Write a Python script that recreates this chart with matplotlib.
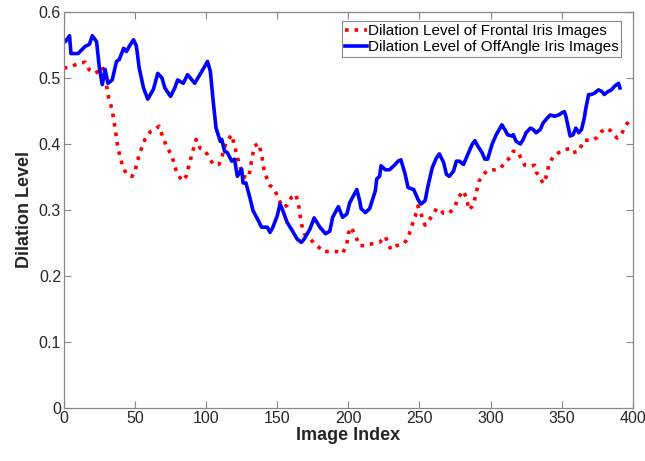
import numpy as np
import matplotlib.pyplot as plt

plt.rcParams['font.family'] = ['Liberation Sans', 'DejaVu Sans']

# dilation level of off-angle iris images
off_idx = [0, 1, 4, 5, 10, 15, 18, 20, 23, 25, 27, 29, 31, 34, 37, 39, 42, 44, 46, 49,
           51, 53, 56, 59, 63, 66, 69, 71, 75, 78, 80, 84, 87, 92, 97, 101, 103, 105, 107, 110,
           111, 113, 115, 118, 120, 122, 125, 126, 128, 131, 133, 136, 139, 143, 145, 147, 150, 152, 154, 157,
           160, 164, 167, 169, 173, 176, 180, 184, 187, 189, 193, 196, 199, 201, 203, 206, 208, 209, 212, 215,
           219, 220, 222, 223, 226, 229, 233, 235, 237, 240, 242, 246, 249, 251, 254, 256, 259, 262, 264, 267,
           269, 271, 274, 276, 278, 281, 284, 287, 289, 291, 294, 296, 298, 301, 304, 308, 310, 312, 315, 316,
           318, 321, 323, 325, 328, 330, 332, 335, 337, 339, 342, 345, 348, 350, 352, 353, 356, 358, 360, 362,
           364, 366, 367, 369, 371, 373, 376, 378, 380, 383, 385, 387, 390, 391]
off_val = [0.555, 0.555, 0.564, 0.537, 0.537, 0.548, 0.551, 0.564, 0.555, 0.515, 0.490, 0.513, 0.492, 0.497, 0.525, 0.528, 0.545, 0.540, 0.548, 0.558,
           0.548, 0.515, 0.485, 0.468, 0.483, 0.507, 0.500, 0.485, 0.472, 0.485, 0.497, 0.492, 0.505, 0.492, 0.510, 0.525, 0.510, 0.465, 0.424, 0.404,
           0.407, 0.389, 0.387, 0.374, 0.377, 0.351, 0.362, 0.341, 0.341, 0.317, 0.299, 0.287, 0.274, 0.274, 0.266, 0.274, 0.291, 0.309, 0.299, 0.281,
           0.271, 0.256, 0.251, 0.256, 0.271, 0.288, 0.274, 0.264, 0.268, 0.289, 0.305, 0.289, 0.294, 0.311, 0.319, 0.331, 0.314, 0.302, 0.296, 0.302,
           0.329, 0.347, 0.351, 0.367, 0.361, 0.361, 0.369, 0.374, 0.376, 0.354, 0.334, 0.331, 0.316, 0.309, 0.314, 0.336, 0.364, 0.379, 0.385, 0.372,
           0.354, 0.351, 0.359, 0.374, 0.374, 0.369, 0.384, 0.399, 0.405, 0.397, 0.387, 0.377, 0.377, 0.399, 0.414, 0.429, 0.422, 0.414, 0.412, 0.414,
           0.404, 0.400, 0.407, 0.417, 0.424, 0.422, 0.417, 0.422, 0.432, 0.437, 0.444, 0.442, 0.444, 0.447, 0.449, 0.442, 0.412, 0.414, 0.424, 0.417,
           0.422, 0.440, 0.454, 0.475, 0.475, 0.477, 0.482, 0.480, 0.475, 0.480, 0.482, 0.487, 0.492, 0.485]

# dilation level of frontal iris images
front_idx = [0, 5, 10, 15, 18, 22, 24, 27, 29, 31, 34, 36, 38, 41, 44, 48, 50, 53, 57, 61,
             64, 67, 69, 72, 76, 79, 83, 86, 90, 93, 96, 98, 101, 105, 109, 111, 114, 118, 120, 123,
             126, 130, 132, 134, 137, 139, 141, 145, 148, 151, 154, 157, 160, 163, 165, 167, 169, 173, 176, 180,
             182, 187, 192, 196, 199, 200, 202, 205, 208, 213, 217, 222, 226, 228, 230, 234, 239, 242, 244, 247,
             249, 251, 254, 257, 260, 262, 264, 267, 271, 275, 277, 281, 283, 285, 288, 290, 292, 295, 298, 303,
             307, 310, 314, 316, 319, 322, 324, 328, 331, 332, 335, 337, 339, 341, 344, 348, 351, 356, 358, 362,
             364, 366, 371, 375, 378, 382, 385, 389, 392, 394, 397, 398]
front_val = [0.515, 0.517, 0.522, 0.524, 0.512, 0.507, 0.510, 0.517, 0.502, 0.475, 0.451, 0.424, 0.394, 0.369, 0.354, 0.351, 0.359, 0.384, 0.407, 0.419,
             0.422, 0.427, 0.414, 0.397, 0.382, 0.359, 0.344, 0.351, 0.384, 0.407, 0.393, 0.392, 0.384, 0.369, 0.369, 0.379, 0.402, 0.414, 0.397, 0.372,
             0.351, 0.349, 0.375, 0.397, 0.401, 0.384, 0.357, 0.337, 0.332, 0.316, 0.304, 0.307, 0.319, 0.324, 0.309, 0.279, 0.264, 0.257, 0.249, 0.242,
             0.237, 0.237, 0.237, 0.234, 0.249, 0.264, 0.274, 0.261, 0.246, 0.246, 0.249, 0.251, 0.260, 0.249, 0.240, 0.246, 0.249, 0.257, 0.272, 0.290,
             0.306, 0.295, 0.277, 0.285, 0.295, 0.302, 0.302, 0.295, 0.295, 0.305, 0.318, 0.329, 0.318, 0.300, 0.308, 0.327, 0.344, 0.354, 0.360, 0.361,
             0.363, 0.372, 0.380, 0.389, 0.389, 0.376, 0.368, 0.366, 0.368, 0.358, 0.348, 0.340, 0.350, 0.368, 0.381, 0.387, 0.391, 0.393, 0.387, 0.389,
             0.398, 0.406, 0.405, 0.410, 0.419, 0.424, 0.419, 0.409, 0.414, 0.424, 0.434, 0.436]

fig = plt.figure(figsize=(6.45, 4.61), dpi=100)
ax = fig.add_axes([0.099, 0.115, 0.882, 0.859])

ax.plot(front_idx, front_val, color='#ff0000', linestyle=':', linewidth=2.6,
        label='Dilation Level of Frontal Iris Images')
ax.plot(off_idx, off_val, color='#0000ff', linestyle='-', linewidth=2.6,
        label='Dilation Level of OffAngle Iris Images')

ax.set_xlim(0, 400)
ax.set_ylim(0, 0.6)
ax.set_xticks(np.arange(0, 401, 50))
ax.set_yticks(np.arange(0, 0.61, 0.1))
ax.set_yticklabels(['0', '0.1', '0.2', '0.3', '0.4', '0.5', '0.6'])
ax.tick_params(direction='in', top=True, right=True, length=5, width=0.8,
               color='#888888', labelsize=11.5, labelcolor='#262626', pad=2)
for s in ax.spines.values():
    s.set_color('#888888')
    s.set_linewidth(0.9)

ax.set_xlabel('Image Index', fontsize=13, fontweight='bold', color='#262626', labelpad=1)
ax.set_ylabel('Dilation Level', fontsize=13, fontweight='bold', color='#262626', labelpad=4)

leg = ax.legend(loc='upper right', bbox_to_anchor=(0.98, 0.977), borderaxespad=0,
                fancybox=False, edgecolor='#888888', framealpha=1, fontsize=11,
                handlelength=1.45, handletextpad=0.05, borderpad=0.2, labelspacing=0.12)
leg.get_frame().set_linewidth(0.8)

plt.savefig('out.png', dpi=100)
